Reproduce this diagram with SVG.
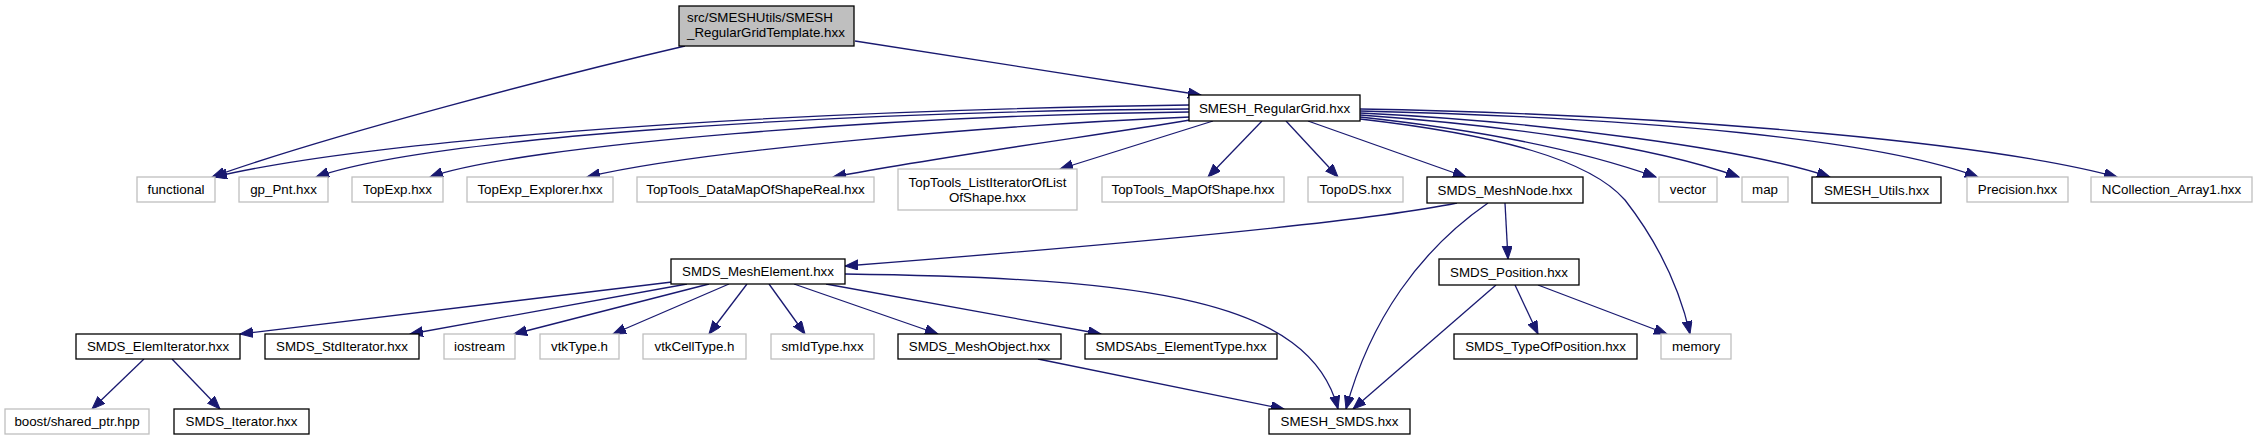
<svg xmlns="http://www.w3.org/2000/svg" width="2257" height="440" viewBox="0 0 2257 440">
<style>
.n rect{fill:#fff;stroke:#000;stroke-width:1.3}
.g rect{fill:#fff;stroke:#bfbfbf;stroke-width:1.3}
.r rect{fill:#bfbfbf;stroke:#000;stroke-width:1.3}
text{font-family:"Liberation Sans",Arial,sans-serif;font-size:13.33px;fill:#000;text-anchor:middle}
.e path{fill:none;stroke:#191970;stroke-width:1.3;marker-end:url(#a)}
</style>
<defs>
<marker id="a" markerUnits="userSpaceOnUse" markerWidth="14" markerHeight="11" refX="13" refY="5" orient="auto" viewBox="0 0 14 11">
<path d="M0,0 L13,5 L0,10 z" fill="#191970" stroke="#191970" stroke-width="1"/>
</marker>
</defs>
<rect width="2257" height="440" fill="#fff"/>
<g id="edges" class="e">
<path d="M685,46 C560,75 330,135 212,177"/>
<path d="M855,41 L1201,95"/>
<path d="M1189,105 C700,112 350,145 214,177"/>
<path d="M1189,109 C800,112 420,140 316,177"/>
<path d="M1189,112 C900,115 520,145 430,177"/>
<path d="M1190,117 C1000,125 700,150 587,177"/>
<path d="M1190,120 C1100,135 950,155 833,177"/>
<path d="M1213,121 L1060,169"/>
<path d="M1262,121 L1208,177"/>
<path d="M1286,121 L1338,177"/>
<path d="M1308,121 L1466,177"/>
<path d="M1360,117 C1480,130 1580,150 1656,177"/>
<path d="M1360,115 C1500,125 1650,145 1739,177"/>
<path d="M1360,113 C1550,122 1750,150 1830,177"/>
<path d="M1360,111 C1650,118 1880,140 1978,177"/>
<path d="M1360,109 C1700,115 2000,145 2117,177"/>
<path d="M1360,119 C1500,135 1590,160 1625,200 C1660,245 1680,290 1690,334"/>
<path d="M1457,203 C1350,225 1050,250 845,266"/>
<path d="M1488,203 C1420,250 1370,320 1346,409"/>
<path d="M1505,203 L1508,259"/>
<path d="M672,282 L240,334"/>
<path d="M687,284 L410,334"/>
<path d="M709,284 L514,334"/>
<path d="M729,284 L613,334"/>
<path d="M747,284 L709,334"/>
<path d="M769,284 L805,334"/>
<path d="M794,284 L938,334"/>
<path d="M826,284 L1101,334"/>
<path d="M845,274 C1150,278 1310,300 1338,409"/>
<path d="M144,359 L92,409"/>
<path d="M172,359 L220,409"/>
<path d="M1038,359 L1284,409"/>
<path d="M1496,285 L1353,409"/>
<path d="M1515,285 L1538,334"/>
<path d="M1538,285 L1667,334"/>
</g>
<g id="n0" class="r"><rect x="679" y="6" width="175" height="40"/><text x="687" y="22" style="text-anchor:start">src/SMESHUtils/SMESH</text><text x="687" y="37" style="text-anchor:start">_RegularGridTemplate.hxx</text></g>
<g id="n1" class="n"><rect x="1189" y="95" width="171" height="26"/><text x="1274.5" y="112.5">SMESH_RegularGrid.hxx</text></g>
<g id="n2" class="g"><rect x="137" y="177" width="78" height="25"/><text x="176" y="194">functional</text></g>
<g id="n3" class="g"><rect x="239" y="177" width="89" height="25"/><text x="283.5" y="194">gp_Pnt.hxx</text></g>
<g id="n4" class="g"><rect x="352" y="177" width="91" height="25"/><text x="397.5" y="194">TopExp.hxx</text></g>
<g id="n5" class="g"><rect x="467" y="177" width="146" height="25"/><text x="540" y="194">TopExp_Explorer.hxx</text></g>
<g id="n6" class="g"><rect x="637" y="177" width="237" height="25"/><text x="755.5" y="194">TopTools_DataMapOfShapeReal.hxx</text></g>
<g id="n7" class="g"><rect x="898" y="169" width="179" height="41"/><text x="987.5" y="186.5">TopTools_ListIteratorOfList</text><text x="987.5" y="201.5">OfShape.hxx</text></g>
<g id="n8" class="g"><rect x="1102" y="177" width="182" height="25"/><text x="1193" y="194">TopTools_MapOfShape.hxx</text></g>
<g id="n9" class="g"><rect x="1308" y="177" width="95" height="25"/><text x="1355.5" y="194">TopoDS.hxx</text></g>
<g id="n10" class="n"><rect x="1427" y="177" width="156" height="26"/><text x="1505" y="194.5">SMDS_MeshNode.hxx</text></g>
<g id="n11" class="g"><rect x="1659" y="177" width="58" height="25"/><text x="1688" y="194">vector</text></g>
<g id="n12" class="g"><rect x="1742" y="177" width="46" height="25"/><text x="1765" y="194">map</text></g>
<g id="n13" class="n"><rect x="1812" y="177" width="129" height="26"/><text x="1876.5" y="194.5">SMESH_Utils.hxx</text></g>
<g id="n14" class="g"><rect x="1967" y="177" width="101" height="25"/><text x="2017.5" y="194">Precision.hxx</text></g>
<g id="n15" class="g"><rect x="2091" y="177" width="161" height="25"/><text x="2171.5" y="194">NCollection_Array1.hxx</text></g>
<g id="n16" class="n"><rect x="671" y="259" width="174" height="25"/><text x="758" y="276">SMDS_MeshElement.hxx</text></g>
<g id="n17" class="n"><rect x="1439" y="259" width="140" height="26"/><text x="1509" y="276.5">SMDS_Position.hxx</text></g>
<g id="n18" class="n"><rect x="76" y="334" width="164" height="25"/><text x="158" y="351">SMDS_ElemIterator.hxx</text></g>
<g id="n19" class="n"><rect x="265" y="334" width="154" height="25"/><text x="342" y="351">SMDS_StdIterator.hxx</text></g>
<g id="n20" class="g"><rect x="444" y="334" width="71" height="25"/><text x="479.5" y="351">iostream</text></g>
<g id="n21" class="g"><rect x="540" y="334" width="79" height="25"/><text x="579.5" y="351">vtkType.h</text></g>
<g id="n22" class="g"><rect x="643" y="334" width="103" height="25"/><text x="694.5" y="351">vtkCellType.h</text></g>
<g id="n23" class="g"><rect x="771" y="334" width="103" height="25"/><text x="822.5" y="351">smIdType.hxx</text></g>
<g id="n24" class="n"><rect x="898" y="334" width="163" height="25"/><text x="979.5" y="351">SMDS_MeshObject.hxx</text></g>
<g id="n25" class="n"><rect x="1085" y="334" width="192" height="25"/><text x="1181" y="351">SMDSAbs_ElementType.hxx</text></g>
<g id="n26" class="n"><rect x="1454" y="334" width="183" height="25"/><text x="1545.5" y="351">SMDS_TypeOfPosition.hxx</text></g>
<g id="n27" class="g"><rect x="1661" y="334" width="70" height="25"/><text x="1696" y="351">memory</text></g>
<g id="n28" class="g"><rect x="5" y="409" width="144" height="25"/><text x="77" y="426">boost/shared_ptr.hpp</text></g>
<g id="n29" class="n"><rect x="174" y="409" width="135" height="25"/><text x="241.5" y="426">SMDS_Iterator.hxx</text></g>
<g id="n30" class="n"><rect x="1269" y="409" width="141" height="25"/><text x="1339.5" y="426">SMESH_SMDS.hxx</text></g>
</svg>
